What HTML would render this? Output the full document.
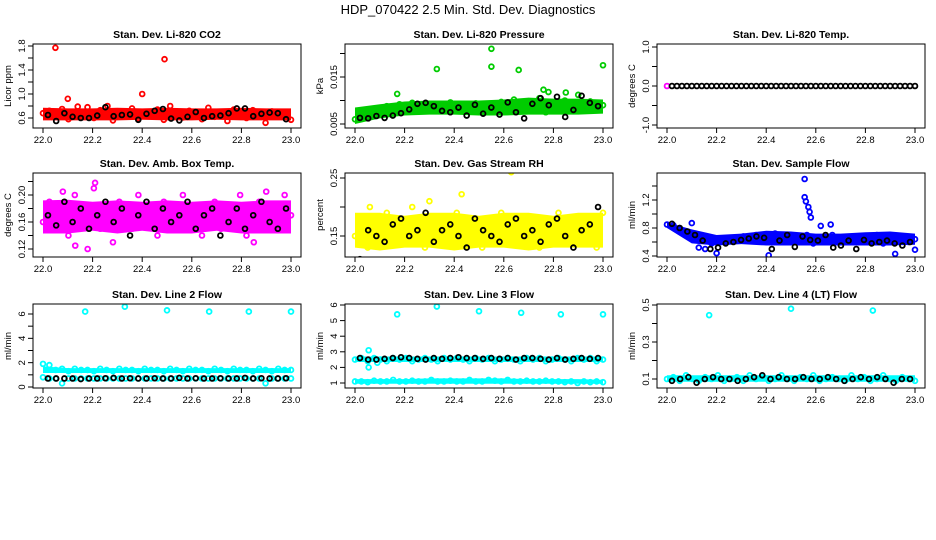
<!DOCTYPE html>
<html><head><meta charset="utf-8"><style>
body{margin:0;background:#fff;}
svg{display:block;font-family:"Liberation Sans",Arial,sans-serif;}
</style></head><body>
<svg id="chart" width="936" height="540" viewBox="0 0 936 540" xmlns="http://www.w3.org/2000/svg">
<text x="468" y="14" font-size="13" text-anchor="middle">HDP_070422  2.5 Min. Std. Dev. Diagnostics</text>
</svg>
<script>
const xTicks=[22.0,22.2,22.4,22.6,22.8,23.0];
const xTickLabels=["22.0","22.2","22.4","22.6","22.8","23.0"];

const co2Colored=[0.68,0.72,0.62,0.75,0.58,0.70,0.65,0.78,0.60,0.73,0.66,0.56,0.71,0.64,0.76,0.59,0.69,0.63,0.74,0.57,0.80,0.67,0.61,0.72,0.65,0.58,0.77,0.62,0.70,0.55,0.74,0.66,0.60,0.73,0.68,0.52,0.71,0.63,0.69,0.57];
const co2Lo=[0.56,0.56,0.56,0.56,0.57,0.56,0.56,0.57,0.56,0.56,0.56];
const co2Hi=[0.77,0.76,0.76,0.77,0.76,0.77,0.76,0.76,0.77,0.76,0.76];
const co2Black=[0.65,0.55,0.68,0.62,0.60,0.60,0.64,0.78,0.63,0.65,0.66,0.57,0.67,0.72,0.75,0.59,0.56,0.62,0.70,0.60,0.63,0.64,0.68,0.76,0.76,0.63,0.67,0.69,0.68,0.58];
const co2OutX=[22.05,22.10,22.40,22.49,22.14,22.26];
const co2OutY=[1.77,0.92,1.00,1.58,0.79,0.80];

const presColored=[0.0060,0.0075,0.0068,0.0082,0.0070,0.0088,0.0078,0.0092,0.0085,0.0095,0.0080,0.0090,0.0087,0.0093,0.0078,0.0096,0.0084,0.0090,0.0082,0.0094,0.0086,0.0091,0.0079,0.0097,0.0088,0.0102,0.0080,0.0098,0.0090,0.0105,0.0075,0.0095,0.0088,0.0100,0.0078,0.0092,0.0085,0.0098,0.0082,0.0090];
const presLo=[0.0050,0.0062,0.0068,0.0070,0.0070,0.0068,0.0068,0.0070,0.0070,0.0070,0.0072];
const presHi=[0.0085,0.0092,0.0098,0.0100,0.0100,0.0100,0.0102,0.0106,0.0104,0.0104,0.0102];
const presBlack=[0.0063,0.0062,0.0067,0.0063,0.0068,0.0073,0.0081,0.0093,0.0095,0.0088,0.0078,0.0075,0.0085,0.0068,0.0091,0.0072,0.0085,0.0070,0.0096,0.0075,0.0062,0.0093,0.0105,0.0090,0.0108,0.0065,0.0080,0.0110,0.0095,0.0088];
const presOutX=[22.33,22.55,22.55,22.66,23.0,22.76,22.78,22.17,22.85,22.9];
const presOutY=[0.0167,0.0210,0.0172,0.0165,0.0175,0.0123,0.0118,0.0114,0.0117,0.0112];

const tempColored=[0];
const tempBlack=[0,0,0,0,0,0,0,0,0,0,0,0,0,0,0,0,0,0,0,0,0,0,0,0,0,0,0,0,0,0,0,0,0,0,0,0,0,0,0,0,0,0,0,0,0,0,0,0,0,0];

const ambColored=[0.16,0.19,0.15,0.18,0.14,0.20,0.17,0.16,0.21,0.15,0.18,0.13,0.19,0.17,0.15,0.20,0.16,0.18,0.14,0.19,0.17,0.15,0.20,0.16,0.18,0.14,0.17,0.19,0.15,0.18,0.16,0.20,0.14,0.17,0.19,0.15,0.18,0.16,0.20,0.17];
const ambLo=[0.143,0.143,0.147,0.143,0.147,0.143,0.143,0.147,0.143,0.143,0.143];
const ambHi=[0.192,0.193,0.19,0.192,0.19,0.192,0.19,0.192,0.19,0.192,0.192];
const ambBlack=[0.17,0.155,0.19,0.16,0.18,0.15,0.17,0.19,0.16,0.18,0.14,0.17,0.19,0.15,0.18,0.16,0.17,0.19,0.15,0.17,0.18,0.14,0.16,0.18,0.15,0.17,0.19,0.16,0.15,0.18];
const ambOutX=[22.18,22.21,22.08,22.90,22.13,22.85];
const ambOutY=[0.12,0.218,0.205,0.205,0.125,0.13];

const rhColored=[0.15,0.18,0.13,0.17,0.16,0.19,0.14,0.17,0.15,0.20,0.16,0.13,0.18,0.15,0.17,0.14,0.19,0.16,0.15,0.18,0.13,0.17,0.16,0.19,0.14,0.17,0.15,0.18,0.16,0.13,0.17,0.15,0.19,0.14,0.16,0.18,0.15,0.17,0.13,0.19];
const rhLo=[0.13,0.125,0.13,0.13,0.125,0.13,0.13,0.125,0.13,0.13,0.13];
const rhHi=[0.19,0.19,0.185,0.19,0.19,0.185,0.19,0.19,0.185,0.19,0.19];
const rhBlack=[0.11,0.16,0.15,0.14,0.17,0.18,0.15,0.16,0.19,0.14,0.16,0.17,0.15,0.13,0.18,0.16,0.15,0.14,0.17,0.18,0.15,0.16,0.14,0.17,0.18,0.15,0.13,0.16,0.17,0.20];
const rhOutX=[22.63,22.43,22.30,22.06];
const rhOutY=[0.26,0.222,0.21,0.20];

const flowColored=[0.85,0.84,0.80,0.74,0.65,0.52,0.50,0.58,0.62,0.60,0.64,0.66,0.68,0.62,0.70,0.65,0.60,0.72,0.66,0.63,0.68,0.62,0.70,0.58,0.66,0.64,0.70,0.60,0.66,0.62,0.68,0.60,0.64,0.70,0.58,0.66,0.62,0.68,0.60,0.64];
const flowLo=[0.80,0.58,0.55,0.57,0.55,0.55,0.55,0.55,0.55,0.55,0.56];
const flowHi=[0.88,0.78,0.70,0.72,0.76,0.75,0.72,0.72,0.74,0.75,0.72];
const flowBlack=[0.86,0.80,0.75,0.70,0.62,0.50,0.52,0.58,0.60,0.63,0.65,0.68,0.66,0.50,0.62,0.70,0.53,0.68,0.63,0.62,0.70,0.52,0.55,0.62,0.50,0.63,0.58,0.60,0.62,0.58,0.55,0.60];
const flowOutX=[22.555,22.555,22.56,22.57,22.575,22.58,22.2,22.41,22.92,23.0,22.62,22.66,22.1];
const flowOutY=[1.50,1.24,1.18,1.10,1.03,0.95,0.44,0.41,0.43,0.49,0.83,0.85,0.87];

const line2Colored=[1.9,1.8,1.4,1.5,1.3,1.5,1.4,1.4,1.3,1.5,1.4,1.3,1.5,1.4,1.4,1.3,1.5,1.4,1.4,1.3,1.5,1.4,1.3,1.5,1.4,1.4,1.3,1.5,1.4,1.3,1.5,1.4,1.4,1.3,1.5,1.4,1.3,1.5,1.4,1.4];
const line2Colored2=[0.8,0.7,0.7,0.3,0.7,0.7,0.7,0.7,0.7,0.7,0.7,0.7,0.7,0.7,0.7,0.7,0.7,0.7,0.7,0.7,0.7,0.7,0.7,0.7,0.7,0.7,0.7,0.7,0.7,0.7,0.7,0.7,0.7,0.7,0.7,0.3,0.7,0.7,0.7,0.7];
const line2Lo=[1.15,1.15,1.15,1.15,1.15,1.15,1.15,1.15,1.15,1.15,1.15];
const line2Hi=[1.7,1.55,1.55,1.55,1.55,1.55,1.55,1.55,1.55,1.55,1.55];
const line2Black=[0.7,0.7,0.7,0.7,0.65,0.7,0.7,0.72,0.75,0.7,0.72,0.7,0.7,0.72,0.7,0.7,0.75,0.7,0.72,0.7,0.7,0.72,0.7,0.7,0.75,0.7,0.72,0.7,0.7,0.72];
const line2OutX=[22.17,22.33,22.50,22.67,22.83,23.00];
const line2OutY=[6.2,6.6,6.3,6.2,6.2,6.2];

const line3Colored=[2.5,2.6,2.4,2.6,2.5,2.4,2.6,2.5,2.6,2.4,2.5,2.6,2.5,2.4,2.6,2.5,2.6,2.5,2.4,2.6,2.5,2.6,2.4,2.5,2.6,2.5,2.4,2.6,2.5,2.6,2.4,2.5,2.6,2.5,2.4,2.6,2.5,2.6,2.4,2.5];
const line3Colored2=[1.1,1.1,1.05,1.15,1.1,1.1,1.2,1.1,1.1,1.15,1.1,1.1,1.2,1.1,1.1,1.15,1.1,1.1,1.2,1.1,1.1,1.2,1.15,1.1,1.2,1.1,1.1,1.15,1.1,1.1,1.15,1.1,1.1,1.05,1.1,1.0,1.1,1.05,1.1,1.05];
const line3Lo=[2.35,2.35,2.35,2.35,2.35,2.35,2.35,2.35,2.35,2.35,2.35];
const line3Hi=[2.7,2.7,2.7,2.7,2.7,2.7,2.7,2.7,2.7,2.7,2.7];
const line3Lo2=[0.95,0.95,0.95,0.95,0.95,0.95,0.95,0.95,0.95,0.95,0.95];
const line3Hi2=[1.25,1.25,1.25,1.3,1.3,1.3,1.3,1.25,1.25,1.25,1.2];
const line3Black=[2.6,2.5,2.5,2.55,2.6,2.65,2.6,2.55,2.5,2.6,2.55,2.6,2.65,2.6,2.6,2.55,2.6,2.55,2.6,2.5,2.6,2.6,2.55,2.5,2.6,2.5,2.55,2.6,2.55,2.6];
const line3OutX=[22.17,22.33,22.50,22.67,22.83,23.0,22.055,22.055,22.09];
const line3OutY=[5.4,5.9,5.6,5.5,5.4,5.4,3.1,2.0,2.3];

const line4Colored=[0.10,0.11,0.09,0.12,0.10,0.09,0.11,0.10,0.12,0.09,0.10,0.11,0.09,0.12,0.10,0.11,0.09,0.10,0.12,0.10,0.09,0.11,0.10,0.12,0.09,0.10,0.11,0.10,0.09,0.12,0.10,0.11,0.09,0.10,0.12,0.10,0.09,0.11,0.10,0.09];
const line4Lo=[0.085,0.085,0.085,0.085,0.085,0.085,0.085,0.085,0.085,0.085,0.085];
const line4Hi=[0.12,0.12,0.12,0.12,0.12,0.12,0.12,0.12,0.12,0.12,0.12];
const line4Black=[0.09,0.10,0.11,0.08,0.10,0.11,0.10,0.10,0.09,0.10,0.11,0.12,0.10,0.11,0.10,0.10,0.11,0.10,0.10,0.11,0.10,0.09,0.10,0.11,0.10,0.11,0.10,0.08,0.10,0.10];
const line4OutX=[22.17,22.50,22.83];
const line4OutY=[0.445,0.48,0.47];

const panels=[
 {name:"co2",title:"Stan. Dev. Li-820 CO2",ylab:"Licor ppm",col:0,row:0,color:"#ff0000",y0:0.6,y0px:118,y1:1.8,y1px:46,ticks:[0.6,0.8,1.0,1.2,1.4,1.6,1.8],labels:["0.6","","1.0","","1.4","","1.8"],colored:[co2Colored],bands:[[co2Lo,co2Hi]],black:co2Black,outX:co2OutX,outY:co2OutY},
 {name:"pressure",title:"Stan. Dev. Li-820 Pressure",ylab:"kPa",col:1,row:0,color:"#00cc00",y0:0.005,y0px:124,y1:0.015,y1px:77,ticks:[0.005,0.010,0.015,0.020],labels:["0.005","","0.015",""],colored:[presColored],bands:[[presLo,presHi]],black:presBlack,outX:presOutX,outY:presOutY},
 {name:"temp",title:"Stan. Dev. Li-820 Temp.",ylab:"degrees C",col:2,row:0,color:"#ff00ff",y0:-1,y0px:125,y1:1,y1px:47,ticks:[-1,-0.5,0,0.5,1],labels:["-1.0","","0.0","","1.0"],colored:[tempColored],bands:[],black:tempBlack,outX:[],outY:[]},
 {name:"amb-box-temp",title:"Stan. Dev. Amb. Box Temp.",ylab:"degrees C",col:0,row:1,color:"#ff00ff",y0:0.12,y0px:249,y1:0.20,y1px:195,ticks:[0.12,0.14,0.16,0.18,0.20,0.22],labels:["0.12","","0.16","","0.20",""],colored:[ambColored],bands:[[ambLo,ambHi]],black:ambBlack,outX:ambOutX,outY:ambOutY},
 {name:"gas-rh",title:"Stan. Dev. Gas Stream RH",ylab:"percent",col:1,row:1,color:"#ffff00",y0:0.15,y0px:236,y1:0.25,y1px:178,ticks:[0.15,0.20,0.25],labels:["0.15","","0.25"],colored:[rhColored],bands:[[rhLo,rhHi]],black:rhBlack,outX:rhOutX,outY:rhOutY},
 {name:"sample-flow",title:"Stan. Dev. Sample Flow",ylab:"ml/min",col:2,row:1,color:"#0000ff",y0:0.4,y0px:256,y1:1.2,y1px:200,ticks:[0.4,0.6,0.8,1.0,1.2,1.4],labels:["0.4","","0.8","","1.2",""],colored:[flowColored],bands:[[flowLo,flowHi]],black:flowBlack,outX:flowOutX,outY:flowOutY},
 {name:"line2-flow",title:"Stan. Dev. Line 2 Flow",ylab:"ml/min",col:0,row:2,color:"#00ffff",y0:0,y0px:387,y1:6,y1px:314,ticks:[0,1,2,3,4,5,6],labels:["0","","2","","4","","6"],colored:[line2Colored,line2Colored2],bands:[[line2Lo,line2Hi]],black:line2Black,outX:line2OutX,outY:line2OutY},
 {name:"line3-flow",title:"Stan. Dev. Line 3 Flow",ylab:"ml/min",col:1,row:2,color:"#00ffff",y0:1,y0px:383,y1:6,y1px:305,ticks:[1,2,3,4,5,6],labels:["1","2","3","4","5","6"],colored:[line3Colored,line3Colored2],bands:[[line3Lo,line3Hi],[line3Lo2,line3Hi2]],black:line3Black,outX:line3OutX,outY:line3OutY},
 {name:"line4-flow",title:"Stan. Dev. Line 4 (LT) Flow",ylab:"ml/min",col:2,row:2,color:"#00ffff",y0:0.1,y0px:379,y1:0.5,y1px:305,ticks:[0.1,0.2,0.3,0.4,0.5],labels:["0.1","","0.3","","0.5"],colored:[line4Colored],bands:[[line4Lo,line4Hi]],black:line4Black,outX:line4OutX,outY:line4OutY}
];
const rowTop=[44,173,304];
const NS="http://www.w3.org/2000/svg";
const svg=document.getElementById('chart');
function mk(tag,attrs,parent){const e=document.createElementNS(NS,tag);for(const k in attrs)e.setAttribute(k,attrs[k]);parent.appendChild(e);return e;}
panels.forEach(p=>{
 const left=33+p.col*312, right=left+268, top=rowTop[p.row], bottom=top+84;
 const xs=v=>left+10+(v-22)*248;
 const ys=v=>p.y0px+(v-p.y0)*(p.y1px-p.y0px)/(p.y1-p.y0);
 const g=mk('g',{},svg);
 
 
 const t=mk('text',{x:(left+right)/2,y:top-6,'font-size':'10.5','font-weight':'bold','text-anchor':'middle'},g);
 t.textContent=p.title;
 
 
 const cp=mk('clipPath',{id:'c'+p.name},g);
 mk('rect',{x:left,y:top,width:268,height:84},cp);
 const marks=mk('g',{'clip-path':'url(#c'+p.name+')'},g);
 p.bands.forEach(b=>{
  let pts=[];
  b[1].forEach((v,i)=>pts.push(xs(22+i/10)+','+ys(v)));
  for(let i=b[0].length-1;i>=0;i--)pts.push(xs(22+i/10)+','+ys(b[0][i]));
  const poly=mk('polygon',{points:pts.join(' '),fill:p.color},marks);
  
  
 });
 const pt=(x,y,c)=>{const e=mk('circle',{cx:xs(x),cy:ys(y),r:2.4,fill:'none',stroke:c,'stroke-width':1.8},marks);return e;};
 p.colored.forEach(arr=>arr.forEach((v,i)=>{
  const e=pt(arr.length>1?22+i/(arr.length-1):22,v,p.color);
  
  
 }));
 p.outX.forEach((x,i)=>{
  const e=pt(x,p.outY[i],p.color);
  
  
 });
 const bs=p.name==='temp'?[0.02,0.98]:[0.02,0.96];
 p.black.forEach((v,i)=>{
  const e=pt(22+bs[0]+bs[1]*i/(p.black.length-1),v,'#000');
  
  
 });
 const box=mk('rect',{x:left,y:top,width:268,height:84,fill:'none',stroke:'#000','stroke-width':1},g);
 
 
 const xa=mk('g',{},g);
 
 
 xTicks.forEach((v,i)=>{
  mk('line',{x1:xs(v),x2:xs(v),y1:bottom,y2:bottom+5,stroke:'#000'},xa);
  const tl=mk('text',{x:xs(v),y:bottom+15,'font-size':'9.5','text-anchor':'middle'},xa);
  tl.textContent=xTickLabels[i];
 });
 const ya=mk('g',{},g);
 
 
 p.ticks.forEach((v,i)=>{
  const y=ys(v); if(y<top-1||y>bottom+1)return;
  mk('line',{x1:left-5,x2:left,y1:y,y2:y,stroke:'#000'},ya);
  if(p.labels[i]){const tl=mk('text',{x:left-8,y:y,'font-size':'9.5','text-anchor':'middle',transform:'rotate(-90 '+(left-8)+' '+y+')'},ya);tl.textContent=p.labels[i];}
 });
 const yl=mk('text',{x:left-22,y:(top+bottom)/2,'font-size':'9.5','text-anchor':'middle',transform:'rotate(-90 '+(left-22)+' '+((top+bottom)/2)+')'},g);
 yl.textContent=p.ylab;
 
 
});
</script>
</body></html>
